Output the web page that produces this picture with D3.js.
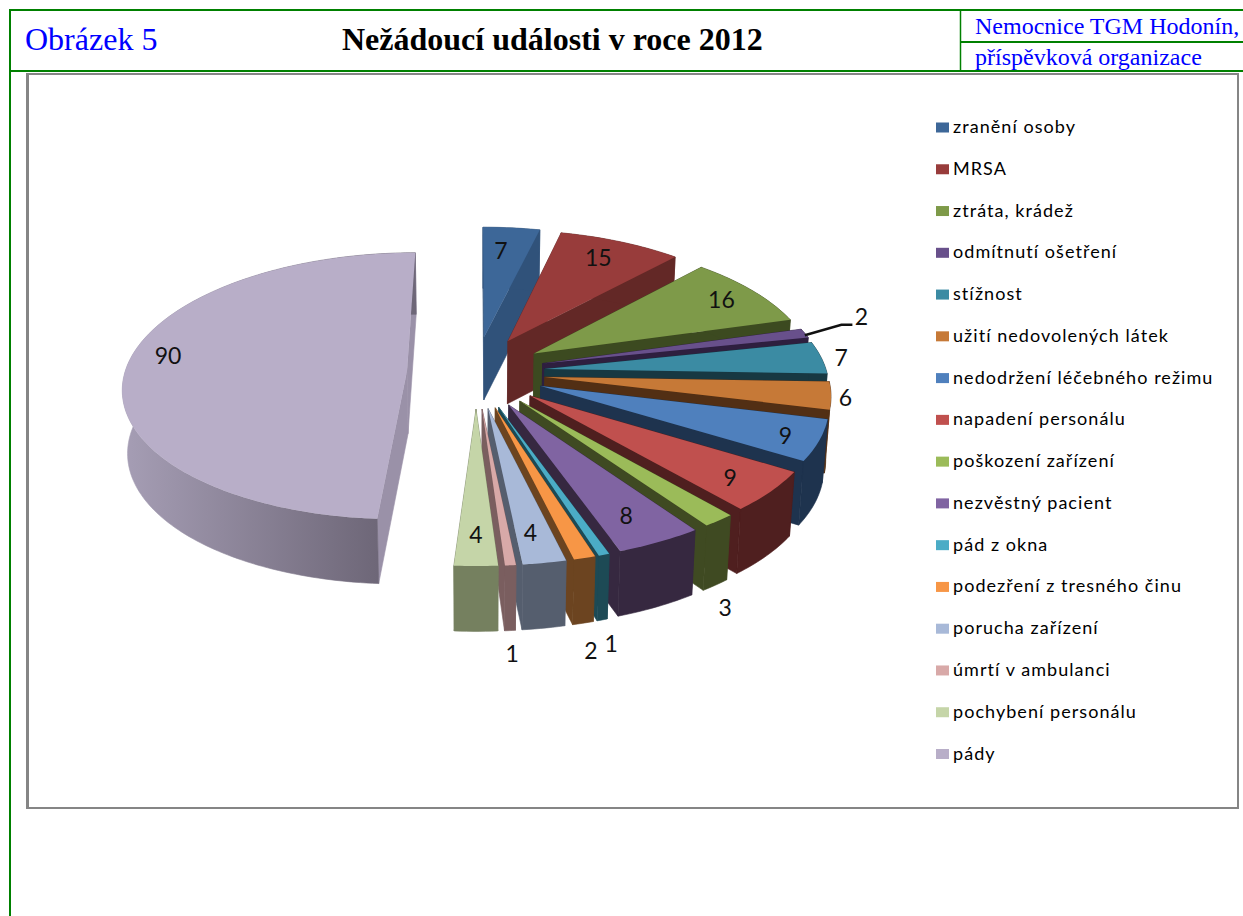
<!DOCTYPE html>
<html>

<head>
    <meta charset="UTF-8">
    <title>Nežádoucí události v roce 2012</title>
    <script src="https://d3js.org/d3.v7.min.js"></script>
    <style>
        html, body {
            margin: 0;
            padding: 0;
            background: white;
            overflow: hidden;
        }

        .head {
            font-family: "Liberation Serif", serif;
        }

        .lbl {
            font-family: Lato, sans-serif;
            font-size: 23px;
            fill: #111;
            text-anchor: middle;
            dominant-baseline: central;
        }

        .leg {
            font-family: Lato, sans-serif;
            font-size: 18px;
            letter-spacing: 1.05px;
            fill: #000;
            dominant-baseline: central;
        }
    </style>
</head>

<body>
    <div id="chart"></div>

    <script>
        // data
        var categories = ["zranění osoby", "MRSA", "ztráta, krádež", "odmítnutí ošetření", "stížnost",
            "užití nedovolených látek", "nedodržení léčebného režimu", "napadení personálu",
            "poškození zařízení", "nezvěstný pacient", "pád z okna", "podezření z tresného činu",
            "porucha zařízení", "úmrtí v ambulanci", "pochybení personálu", "pády"];
        var values = [7, 15, 16, 2, 7, 6, 9, 9, 3, 8, 1, 2, 4, 1, 4, 90];

        var topColors = ["#3d6798", "#983c3b", "#7e9a49", "#68508b", "#3b8ba3", "#c67937", "#4f80bd", "#c0504e",
            "#9bbb59", "#8064a2", "#4bacc6", "#f79646", "#a8b9d8", "#d8a9a8", "#c5d5a8", "#b8aec8"];
        var wallColors = ["#30527a", "#632826", "#3c4a20", "#2e1f3f", "#173842", "#522f14", "#1e334e", "#4f1f1f",
            "#3f4a22", "#362840", "#1d4a55", "#6c4420", "#555e6e", "#7a5e5f", "#75805f", "#9a91a8"];

        // label placement: distance along the slice middle, then a small shift
        var labelRho = [.77, .83, .85, 1.22, 1.08, 1.06, .9, .86, 1.18, .82, 1.155, 1.173, .816, 1.145, .81, .878];
        var labelDx = [-5, -5, 0, 1, -2, -3, -5, -5, -33, -4, -11, -11, -3, -3, 0, 7];
        var labelDy = [0, 0, 0, -11, 0, 0, 0, 0, 63, 0, 63, 63, 0, 63, 0, -12];

        var width = 1243, height = 916;
        var green = "#008000";

        var svg = d3.select("#chart").append("svg")
            .attr("width", width)
            .attr("height", height)
            .style("display", "block");

        // header table
        function rule(x1, y1, x2, y2, w) {
            svg.append("line").attr("x1", x1).attr("y1", y1).attr("x2", x2).attr("y2", y2)
                .attr("stroke", green).attr("stroke-width", w);
        }
        rule(9, 10, width, 10, 2);
        rule(10, 10, 10, height, 2);
        rule(10, 71, width, 71, 2);
        rule(960.5, 10, 960.5, 71, 1.5);
        rule(960, 42, width, 42, 2);

        function headText(x, y, size, txt, color, bold) {
            svg.append("text").attr("class", "head").attr("x", x).attr("y", y)
                .attr("font-size", size).attr("fill", color)
                .attr("font-weight", bold ? "bold" : "normal").text(txt);
        }
        headText(25, 50, 32, "Obrázek 5", "#0000ff");
        headText(342, 50, 32, "Nežádoucí události v roce 2012", "#000", true);
        headText(975, 34, 24, "Nemocnice TGM Hodonín,", "#0000ff");
        headText(975, 65, 24, "příspěvková organizace", "#0000ff");

        // chart frame
        svg.append("rect").attr("x", 27.5).attr("y", 74).attr("width", 1210.5).attr("height", 734)
            .attr("fill", "white").attr("stroke", "#858585").attr("stroke-width", 2);
        svg.append("line").attr("x1", 27.5).attr("y1", 73).attr("x2", 27.5).attr("y2", 809)
            .attr("stroke", "#858585").attr("stroke-width", 3);

        // 3D pie projection, u to the right and v towards the viewer, 1 = pie radius
        var cx = 476, cy = 372, depth = 63;
        var ax = 282, ay = 133.5, ayy = 15.2;
        var explodeU = 0.245, explodeV = 0.27;

        function project(u, v) {
            var s = 1 + 0.12 * v;
            return [cx + ax * u * s, cy + ay * v + ayy * v * v];
        }

        function point(rho, angle, mid) {
            return project(rho * Math.sin(angle) + explodeU * Math.sin(mid),
                -rho * Math.cos(angle) - explodeV * Math.cos(mid));
        }

        // the same point on the underside, a bit taller near the viewer
        function drop(p) {
            return [cx + (p[0] - cx) * 0.985, p[1] + depth + (p[1] - cy) * 0.012];
        }

        var line = d3.line();
        var pie = d3.pie().sort(null).value(function (d) { return d; });
        var arcs = pie(values);

        // gradient on the big slice's outer wall
        var grad = svg.append("defs").append("linearGradient")
            .attr("id", "wall90")
            .attr("gradientUnits", "userSpaceOnUse")
            .attr("x1", 122).attr("y1", 0).attr("x2", 377).attr("y2", 0);
        grad.append("stop").attr("offset", 0).attr("stop-color", "#a69eb5");
        grad.append("stop").attr("offset", 1).attr("stop-color", "#6e6778");

        var last = arcs.length - 1;

        arcs.forEach(function (d, i) {
            var mid = (d.startAngle + d.endAngle) / 2;
            var n = Math.max(4, Math.ceil((d.endAngle - d.startAngle) / 0.02));
            var rim = d3.range(n + 1).map(function (k) {
                return point(1, d.startAngle + (d.endAngle - d.startAngle) * k / n, mid);
            });
            var tip = point(0, 0, mid);
            var g = svg.append("g").attr("class", "slice");
            var wall = i === last ? "url(#wall90)" : wallColors[i];

            // radial walls
            [rim[0], rim[n]].forEach(function (p) {
                g.append("path")
                    .attr("d", line([tip, p, drop(p), drop(tip)]) + "Z")
                    .attr("fill", wallColors[i])
                    .attr("stroke", wallColors[i]).attr("stroke-width", 0.6);
            });

            // outer wall
            g.append("path")
                .attr("d", line(rim.concat(rim.map(drop).reverse())) + "Z")
                .attr("fill", wall)
                .attr("stroke", wall).attr("stroke-width", 0.6);

            // top face
            g.append("path")
                .attr("d", line([tip].concat(rim)) + "Z")
                .attr("fill", topColors[i]);
        });

        // leader of the small slice
        var leaderArc = arcs[3];
        var leaderMid = (leaderArc.startAngle + leaderArc.endAngle) / 2;
        var leaderStart = point(1, leaderMid, leaderMid);
        var leaderEnd = point(labelRho[3], leaderMid, leaderMid);
        svg.append("path")
            .attr("d", line([[leaderStart[0], leaderStart[1] + 2], [leaderEnd[0] - 19, leaderEnd[1] - 2], [leaderEnd[0] - 8, leaderEnd[1] - 2]]))
            .attr("fill", "none").attr("stroke", "#111").attr("stroke-width", 2.5);

        // value labels
        arcs.forEach(function (d, i) {
            var mid = (d.startAngle + d.endAngle) / 2;
            var p = point(labelRho[i], mid, mid);
            svg.append("text").attr("class", "lbl")
                .attr("x", p[0] + labelDx[i])
                .attr("y", p[1] + labelDy[i])
                .text(values[i]);
        });

        // legend
        var legendY = d3.scalePoint().domain(categories).range([127.5, 754]);
        var legend = svg.selectAll(".legrow").data(categories).enter().append("g")
            .attr("class", "legrow")
            .attr("transform", function (d) { return "translate(936," + legendY(d) + ")"; });
        legend.append("rect").attr("x", 0).attr("y", -5).attr("width", 13).attr("height", 10)
            .attr("fill", function (d, i) { return topColors[i]; });
        legend.append("text").attr("class", "leg").attr("x", 17).attr("y", -1.5)
            .text(function (d) { return d; });
    </script>
</body>

</html>
